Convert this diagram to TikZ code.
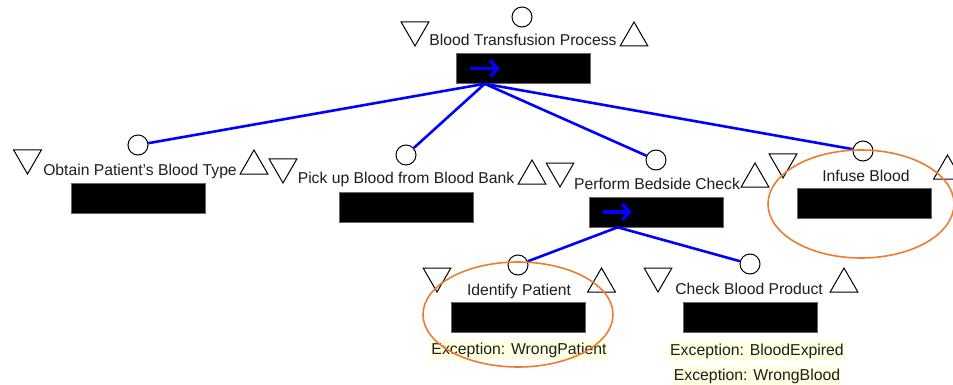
\documentclass[tikz,border=0pt]{standalone}
\usepackage{fontspec}
\setmainfont{Liberation Sans}
\usetikzlibrary{shapes.geometric,arrows.meta,calc}
\definecolor{linkblue}{RGB}{0,0,255}
\definecolor{ringorange}{RGB}{237,125,49}
\definecolor{excbg}{RGB}{255,255,226}
\definecolor{txt}{RGB}{30,30,30}
\tikzset{
  port/.style={circle,draw,line width=0.5pt,fill=white,minimum size=10pt,inner sep=0pt},
  title/.style={font=\fontsize{7.85}{9}\selectfont,text=txt,inner sep=0pt,anchor=base},
  blackbox/.style={fill=black,draw=black!60,line width=0.3pt,minimum width=67pt,minimum height=15pt,inner sep=0pt},
  tridown/.style={regular polygon,regular polygon sides=3,shape border rotate=180,draw,line width=0.5pt,minimum size=16pt,inner sep=0pt},
  triup/.style={regular polygon,regular polygon sides=3,draw,line width=0.5pt,minimum size=16pt,inner sep=0pt},
  exc/.style={font=\fontsize{7.9}{9}\selectfont,text=txt,fill=excbg,inner xsep=0.5pt,inner ysep=1.3pt},
  link/.style={draw=linkblue,line width=1.3pt},
  seqarrow/.style={draw=linkblue,line width=1.8pt,-{Straight Barb[length=3.5pt,width=8pt,line width=1.8pt]}},
  ring/.style={draw=ringorange,line width=0.8pt}
}
\begin{document}
\begin{tikzpicture}[x=0.5pt,y=-0.5pt]
\useasboundingbox (0,0) rectangle (953,385);
\clip (0,0) rectangle (953,385);
\fill[white] (0,0) rectangle (953,385);

% root task
\node[port]    (c0) at (522,17) {};
\node[tridown] (d0) at (415,30) {};
\node[title]   (t0) at (523,46) {Blood Transfusion Process};
\node[triup]   (u0) at (634,38) {};
\node[blackbox](b0) at (523,68.5) {};
\draw[seqarrow] ($(b0.west)+(14,0)$) -- ($(b0.west)+(44,0)$);
\coordinate (h0) at ($(b0.south west)+(29,0)$);

% Obtain Patient's Blood Type
\node[port]    (c1) at (138,145) {};
\node[tridown] (d1) at (27.5,158) {};
\node[title]   (t1) at (140,176) {Obtain Patient's Blood Type};
\node[triup]   (u1) at (254,166) {};
\node[blackbox](b1) at (138.5,198.5) {};

% Pick up Blood from Blood Bank
\node[port]    (c2) at (406,155) {};
\node[tridown] (d2) at (283,167) {};
\node[title]   (t2) at (406,184) {Pick up Blood from Blood Bank};
\node[triup]   (u2) at (532,176) {};
\node[blackbox](b2) at (406,207.5) {};

% Perform Bedside Check
\node[port]    (c3) at (656,160) {};
\node[tridown] (d3) at (560,171) {};
\node[title]   (t3) at (657,189) {Perform Bedside Check};
\node[triup]   (u3) at (755,179) {};
\node[blackbox](b3) at (656,212) {};
\draw[seqarrow] ($(b3.west)+(14,0)$) -- ($(b3.west)+(43,0)$);
\coordinate (h3) at ($(b3.south west)+(29,0)$);

% Infuse Blood
\node[port]    (c4) at (863,151) {};
\node[tridown] (d4) at (783,162) {};
\node[title]   (t4) at (866,181) {Infuse Blood};
\node[triup]   (u4) at (947.5,171) {};
\node[blackbox](b4) at (864,203) {};

% Identify Patient
\node[port]    (c5) at (518,265) {};
\node[tridown] (d5) at (437,276) {};
\node[title]   (t5) at (519,295) {Identify Patient};
\node[triup]   (u5) at (601.5,284) {};
\node[blackbox](b5) at (518.5,317) {};
\node[exc]     (e5) at (519,350) {Exception: WrongPatient};

% Check Blood Product
\node[port]    (c6) at (750,264) {};
\node[tridown] (d6) at (658,276) {};
\node[title]   (t6) at (749,294) {Check Blood Product};
\node[triup]   (u6) at (844,284) {};
\node[blackbox](b6) at (750.5,317) {};
\node[exc]     (e6a) at (757,351) {Exception: BloodExpired};
\node[exc]     (e6b) at (757,376) {Exception: WrongBlood};

% decomposition links
\path[link] (h0) -- (c1);
\path[link] (h0) -- (c2);
\path[link] (h0) -- (c3);
\path[link] (h0) -- (c4);
\path[link] (h3) -- (c5);
\path[link] (h3) -- (c6);

% highlight rings
\draw[ring] (861,204) ellipse [x radius=93, y radius=54];
\draw[ring] (518,314.5) ellipse [x radius=95, y radius=52.5];
\end{tikzpicture}
\end{document}
